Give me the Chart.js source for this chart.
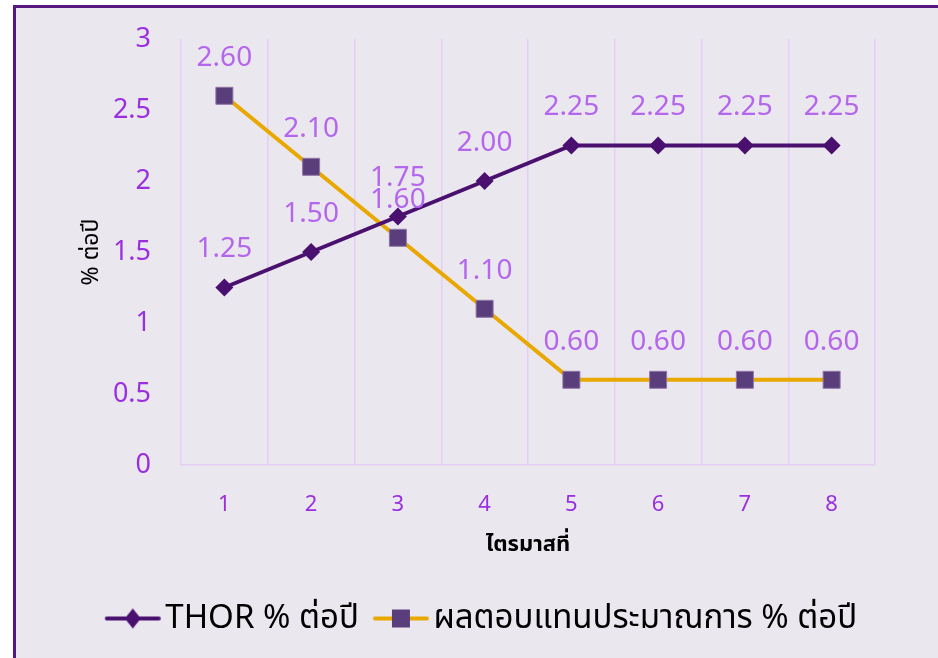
<!DOCTYPE html>
<html>
<head>
<meta charset="utf-8">
<script src="https://cdn.jsdelivr.net/npm/chart.js@4/dist/chart.umd.min.js"></script>
<style>
  html, body { margin: 0; padding: 0; background: #fff; }
  #frame {
    position: absolute; left: 13px; top: 5px; width: 940px; height: 650px;
    background: #ebe7ef;
    border-top: 3px solid #56187f; border-left: 3px solid #56187f;
    border-bottom: 2px solid #c9c2d1;
  }
  #wrap { position: absolute; left: 0; top: 0; width: 938px; height: 658px; }
</style>
</head>
<body>
<div id="frame"></div>
<div id="wrap"><canvas id="chart" width="938" height="658"></canvas></div>
<script>
// ข้อมูลจากกราฟ: THOR เทียบกับผลตอบแทนประมาณการ รายไตรมาส
const quarters = ["1", "2", "3", "4", "5", "6", "7", "8"];
const thorRate = [1.25, 1.50, 1.75, 2.00, 2.25, 2.25, 2.25, 2.25];
const expectedYield = [2.60, 2.10, 1.60, 1.10, 0.60, 0.60, 0.60, 0.60];
const yTicks = [0, 0.5, 1, 1.5, 2, 2.5, 3];

const THOR_COLOR = "#4a1070";
const YIELD_LINE = "#e9a800";
const YIELD_MARK = "#5a3d7b";
const TICK_COLOR = "#9a2fe0";
const LABEL_COLOR = "#b466ec";
const GRID_COLOR = "#e6cdf6";
const FONT = "'Noto Sans', 'Noto Sans Thai', sans-serif";

// ไอคอน legend: เส้น + marker ตรงกลาง (ด้านซ้ายของ canvas เว้นว่างไว้เป็นช่องไฟ)
function legendIcon(lineColor, marker) {
  const c = document.createElement("canvas");
  c.width = 83; c.height = 24;
  const g = c.getContext("2d");
  const x0 = 24, mid = x0 + 28;
  g.strokeStyle = lineColor; g.lineWidth = 4; g.lineCap = "round";
  g.beginPath(); g.moveTo(x0 + 2, 12); g.lineTo(x0 + 54, 12); g.stroke();
  if (marker === "diamond") {
    g.fillStyle = THOR_COLOR;
    g.beginPath(); g.moveTo(mid, 2); g.lineTo(mid + 8, 12); g.lineTo(mid, 22); g.lineTo(mid - 8, 12); g.closePath(); g.fill();
  } else {
    g.fillStyle = YIELD_MARK;
    g.fillRect(mid - 9, 3, 18, 18);
  }
  return c;
}
const thorIcon = legendIcon(THOR_COLOR, "diamond");
const yieldIcon = legendIcon(YIELD_LINE, "square");

const valueLabels = {
  id: "valueLabels",
  afterDatasetsDraw(chart) {
    const ctx = chart.ctx;
    ctx.save();
    ctx.font = "28px " + FONT;
    ctx.fillStyle = LABEL_COLOR;
    ctx.textAlign = "center";
    ctx.textBaseline = "middle";
    chart.data.datasets.forEach((ds, i) => {
      chart.getDatasetMeta(i).data.forEach((pt, j) => {
        ctx.fillText(ds.data[j].toFixed(2), pt.x, pt.y - 38);
      });
    });
    ctx.restore();
  }
};

new Chart(document.getElementById("chart"), {
  type: "line",
  data: {
    labels: quarters,
    datasets: [
      {
        label: "THOR % ต่อปี",
        data: thorRate,
        borderColor: THOR_COLOR,
        backgroundColor: THOR_COLOR,
        borderWidth: 4,
        pointStyle: "rectRot",
        pointRadius: 9,
        pointHoverRadius: 9,
        pointBorderWidth: 0,
        tension: 0,
      },
      {
        label: "ผลตอบแทนประมาณการ % ต่อปี",
        data: expectedYield,
        borderColor: YIELD_LINE,
        backgroundColor: YIELD_MARK,
        pointBackgroundColor: YIELD_MARK,
        pointBorderColor: "#8d74a8",
        pointBorderWidth: 1,
        borderWidth: 4,
        pointStyle: "rect",
        pointRadius: 12,
        pointHoverRadius: 12,
        tension: 0,
      },
    ],
  },
  options: {
    responsive: false,
    animation: false,
    layout: { padding: { left: 78, right: 63, top: 39, bottom: 13 } },
    plugins: {
      tooltip: { enabled: false },
      legend: {
        position: "bottom",
        labels: {
          usePointStyle: true,
          pointStyleWidth: 53,
          boxHeight: 24,
          padding: 5,
          color: "#000",
          font: { family: FONT, size: 33 },
          generateLabels(chart) {
            const items = Chart.defaults.plugins.legend.labels.generateLabels(chart);
            items[0].pointStyle = thorIcon;
            items[1].pointStyle = yieldIcon;
            return items;
          },
        },
      },
    },
    scales: {
      x: {
        offset: true,
        grid: { display: true, offset: true, color: GRID_COLOR, lineWidth: 1.5, drawTicks: false },
        border: { display: true, color: GRID_COLOR, width: 1.5 },
        ticks: { color: TICK_COLOR, font: { family: FONT, size: 22 }, padding: 27 },
        title: { display: true, text: "ไตรมาสที่", color: "#000", font: { family: FONT, size: 22, weight: "bold" }, padding: { top: 0, bottom: 39 } },
        afterFit(scale) { scale.height = 132; },
      },
      y: {
        min: 0,
        max: 3,
        afterBuildTicks(scale) { scale.ticks = yTicks.map(v => ({ value: v })); },
        grid: { display: false },
        border: { display: false },
        ticks: { color: TICK_COLOR, font: { family: FONT, size: 27 }, padding: 22, callback: v => String(v) },
        title: { display: true, text: "% ต่อปี", color: "#000", font: { family: FONT, size: 23 }, padding: 0 },
        afterFit(scale) { scale.width = 103; scale.paddingTop = 0; scale.paddingBottom = 0; },
      },
    },
  },
  plugins: [valueLabels],
});
</script>
</body>
</html>
